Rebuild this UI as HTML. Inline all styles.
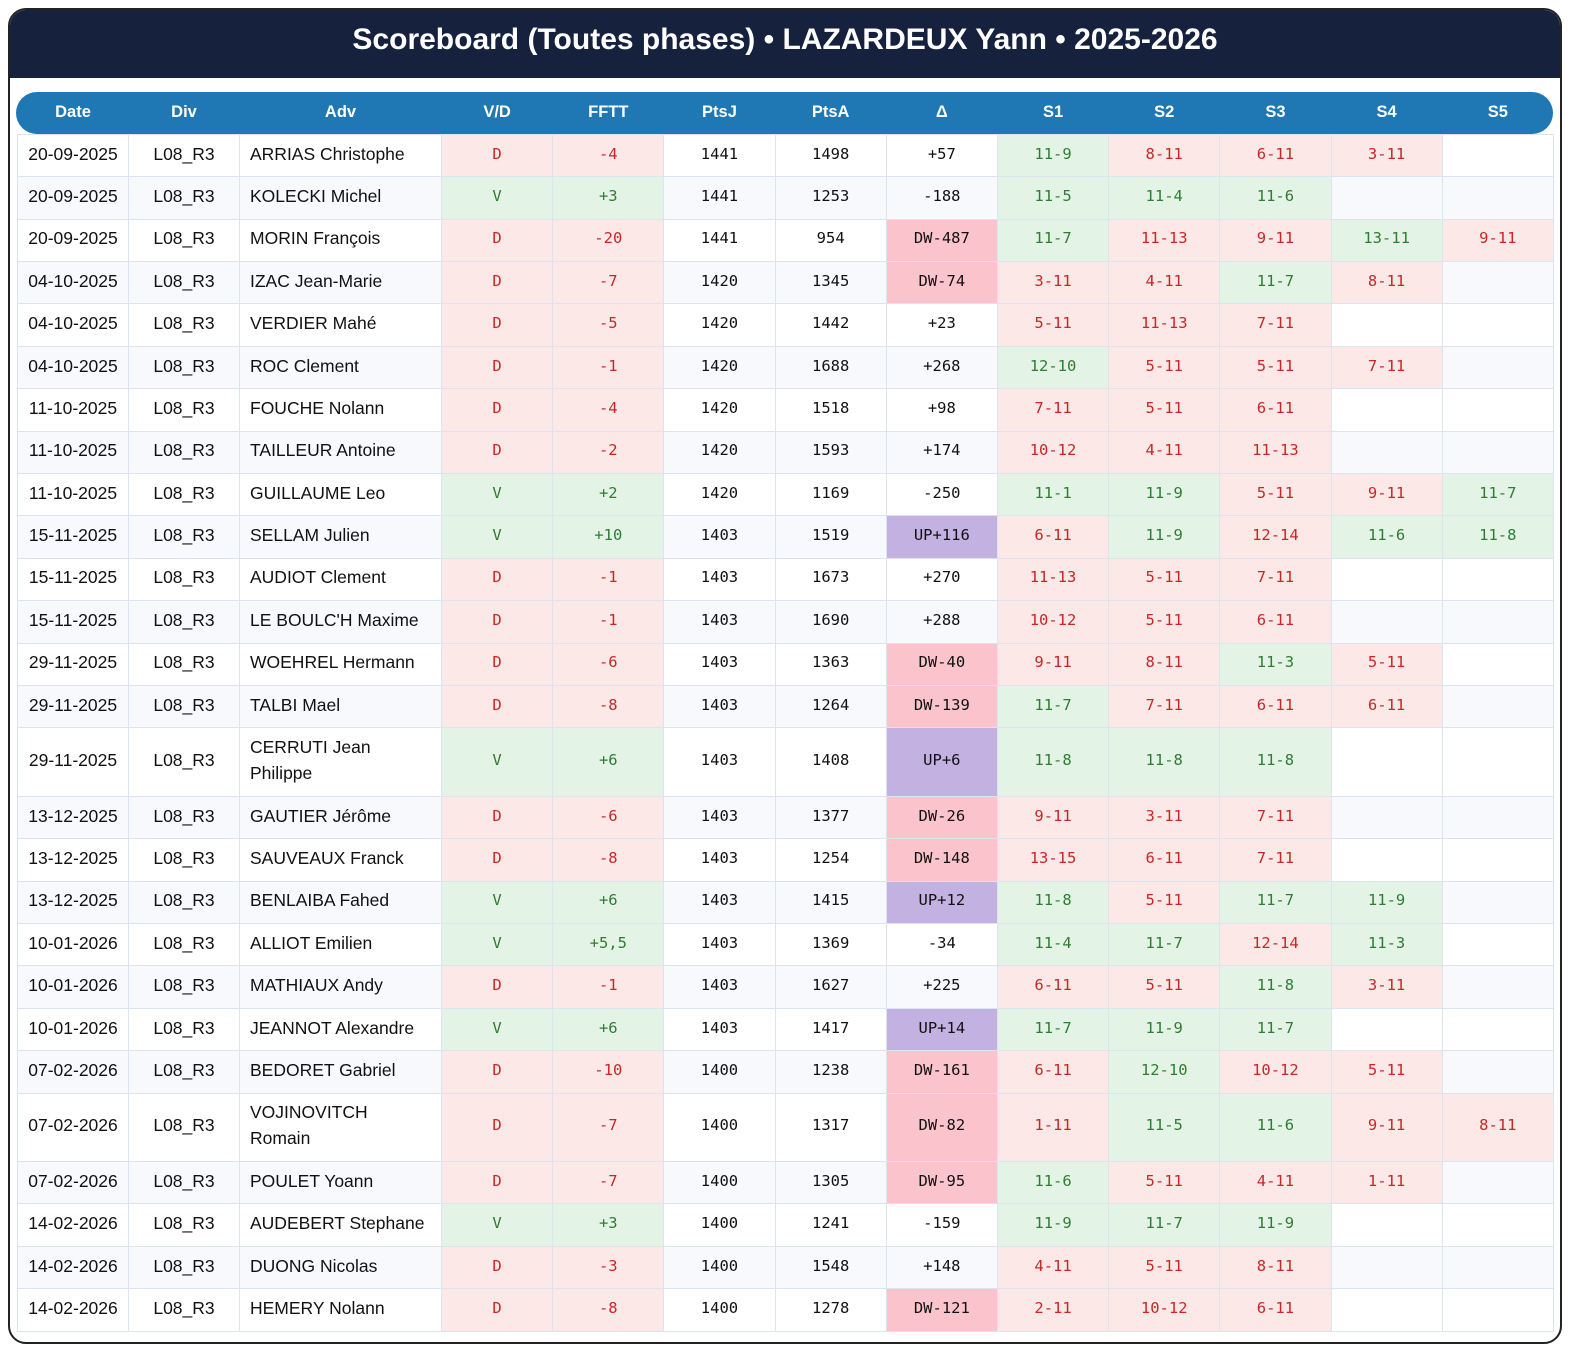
<!DOCTYPE html>
<html><head><meta charset="utf-8"><style>
body{margin:0;width:1593px;height:1357px;background:#fff;position:relative;overflow:hidden;font-family:"Liberation Sans",sans-serif}
.frame{position:absolute;left:8px;top:8px;width:1550px;height:1332px;border:2px solid #222;border-radius:18px;overflow:hidden}
.title{position:absolute;left:0;top:0;width:100%;height:68px;background:#15213d;color:#fff;font-weight:bold;font-size:30px;text-align:center;line-height:60px}
.hdr{position:absolute;left:16px;top:92px;width:1537px;height:42px;background:#1f77b4;border-radius:21px}
table{position:absolute;left:17px;top:92px;border-collapse:collapse;table-layout:fixed;width:1536px;z-index:2}
th{color:#fff;font-size:16.5px;font-weight:bold;height:41px;padding:0;background:transparent}
td{border:1px solid #dde4ef;padding:0 0 4px 0;text-align:center;font-size:17.5px;color:#111;white-space:nowrap;line-height:26px}
td.a{text-align:left;padding-left:10px}
td.m{font-family:"DejaVu Sans Mono","Liberation Mono",monospace;font-size:15.5px}
tr{height:42.4px}
tr.t{height:68.5px}
tbody tr:nth-child(even) td{background:#f7f9fd}
tbody tr td.d{background:#fde8e8;color:#c62828}
tbody tr td.v{background:#e3f4e6;color:#2e7d32}
tbody tr td.dw{background:#fbc4cc}
tbody tr td.up{background:#c3b1e1}
</style></head><body>
<div class="frame"><div class="title">Scoreboard (Toutes phases) • LAZARDEUX Yann • 2025-2026</div></div>
<div class="hdr"></div>
<table>
<colgroup><col style="width:111px"><col style="width:111px"><col style="width:202px"><col span="10" style="width:111.2px"></colgroup>
<thead><tr><th>Date</th><th>Div</th><th>Adv</th><th>V/D</th><th>FFTT</th><th>PtsJ</th><th>PtsA</th><th>Δ</th><th>S1</th><th>S2</th><th>S3</th><th>S4</th><th>S5</th></tr></thead>
<tbody>
<tr><td>20-09-2025</td><td>L08_R3</td><td class="a">ARRIAS Christophe</td><td class="m d">D</td><td class="m d">-4</td><td class="m">1441</td><td class="m">1498</td><td class="m">+57</td><td class="m v">11-9</td><td class="m d">8-11</td><td class="m d">6-11</td><td class="m d">3-11</td><td></td></tr>
<tr><td>20-09-2025</td><td>L08_R3</td><td class="a">KOLECKI Michel</td><td class="m v">V</td><td class="m v">+3</td><td class="m">1441</td><td class="m">1253</td><td class="m">-188</td><td class="m v">11-5</td><td class="m v">11-4</td><td class="m v">11-6</td><td></td><td></td></tr>
<tr><td>20-09-2025</td><td>L08_R3</td><td class="a">MORIN François</td><td class="m d">D</td><td class="m d">-20</td><td class="m">1441</td><td class="m">954</td><td class="m dw">DW-487</td><td class="m v">11-7</td><td class="m d">11-13</td><td class="m d">9-11</td><td class="m v">13-11</td><td class="m d">9-11</td></tr>
<tr><td>04-10-2025</td><td>L08_R3</td><td class="a">IZAC Jean-Marie</td><td class="m d">D</td><td class="m d">-7</td><td class="m">1420</td><td class="m">1345</td><td class="m dw">DW-74</td><td class="m d">3-11</td><td class="m d">4-11</td><td class="m v">11-7</td><td class="m d">8-11</td><td></td></tr>
<tr><td>04-10-2025</td><td>L08_R3</td><td class="a">VERDIER Mahé</td><td class="m d">D</td><td class="m d">-5</td><td class="m">1420</td><td class="m">1442</td><td class="m">+23</td><td class="m d">5-11</td><td class="m d">11-13</td><td class="m d">7-11</td><td></td><td></td></tr>
<tr><td>04-10-2025</td><td>L08_R3</td><td class="a">ROC Clement</td><td class="m d">D</td><td class="m d">-1</td><td class="m">1420</td><td class="m">1688</td><td class="m">+268</td><td class="m v">12-10</td><td class="m d">5-11</td><td class="m d">5-11</td><td class="m d">7-11</td><td></td></tr>
<tr><td>11-10-2025</td><td>L08_R3</td><td class="a">FOUCHE Nolann</td><td class="m d">D</td><td class="m d">-4</td><td class="m">1420</td><td class="m">1518</td><td class="m">+98</td><td class="m d">7-11</td><td class="m d">5-11</td><td class="m d">6-11</td><td></td><td></td></tr>
<tr><td>11-10-2025</td><td>L08_R3</td><td class="a">TAILLEUR Antoine</td><td class="m d">D</td><td class="m d">-2</td><td class="m">1420</td><td class="m">1593</td><td class="m">+174</td><td class="m d">10-12</td><td class="m d">4-11</td><td class="m d">11-13</td><td></td><td></td></tr>
<tr><td>11-10-2025</td><td>L08_R3</td><td class="a">GUILLAUME Leo</td><td class="m v">V</td><td class="m v">+2</td><td class="m">1420</td><td class="m">1169</td><td class="m">-250</td><td class="m v">11-1</td><td class="m v">11-9</td><td class="m d">5-11</td><td class="m d">9-11</td><td class="m v">11-7</td></tr>
<tr><td>15-11-2025</td><td>L08_R3</td><td class="a">SELLAM Julien</td><td class="m v">V</td><td class="m v">+10</td><td class="m">1403</td><td class="m">1519</td><td class="m up">UP+116</td><td class="m d">6-11</td><td class="m v">11-9</td><td class="m d">12-14</td><td class="m v">11-6</td><td class="m v">11-8</td></tr>
<tr><td>15-11-2025</td><td>L08_R3</td><td class="a">AUDIOT Clement</td><td class="m d">D</td><td class="m d">-1</td><td class="m">1403</td><td class="m">1673</td><td class="m">+270</td><td class="m d">11-13</td><td class="m d">5-11</td><td class="m d">7-11</td><td></td><td></td></tr>
<tr><td>15-11-2025</td><td>L08_R3</td><td class="a">LE BOULC'H Maxime</td><td class="m d">D</td><td class="m d">-1</td><td class="m">1403</td><td class="m">1690</td><td class="m">+288</td><td class="m d">10-12</td><td class="m d">5-11</td><td class="m d">6-11</td><td></td><td></td></tr>
<tr><td>29-11-2025</td><td>L08_R3</td><td class="a">WOEHREL Hermann</td><td class="m d">D</td><td class="m d">-6</td><td class="m">1403</td><td class="m">1363</td><td class="m dw">DW-40</td><td class="m d">9-11</td><td class="m d">8-11</td><td class="m v">11-3</td><td class="m d">5-11</td><td></td></tr>
<tr><td>29-11-2025</td><td>L08_R3</td><td class="a">TALBI Mael</td><td class="m d">D</td><td class="m d">-8</td><td class="m">1403</td><td class="m">1264</td><td class="m dw">DW-139</td><td class="m v">11-7</td><td class="m d">7-11</td><td class="m d">6-11</td><td class="m d">6-11</td><td></td></tr>
<tr class="t"><td>29-11-2025</td><td>L08_R3</td><td class="a">CERRUTI Jean<br>Philippe</td><td class="m v">V</td><td class="m v">+6</td><td class="m">1403</td><td class="m">1408</td><td class="m up">UP+6</td><td class="m v">11-8</td><td class="m v">11-8</td><td class="m v">11-8</td><td></td><td></td></tr>
<tr><td>13-12-2025</td><td>L08_R3</td><td class="a">GAUTIER Jérôme</td><td class="m d">D</td><td class="m d">-6</td><td class="m">1403</td><td class="m">1377</td><td class="m dw">DW-26</td><td class="m d">9-11</td><td class="m d">3-11</td><td class="m d">7-11</td><td></td><td></td></tr>
<tr><td>13-12-2025</td><td>L08_R3</td><td class="a">SAUVEAUX Franck</td><td class="m d">D</td><td class="m d">-8</td><td class="m">1403</td><td class="m">1254</td><td class="m dw">DW-148</td><td class="m d">13-15</td><td class="m d">6-11</td><td class="m d">7-11</td><td></td><td></td></tr>
<tr><td>13-12-2025</td><td>L08_R3</td><td class="a">BENLAIBA Fahed</td><td class="m v">V</td><td class="m v">+6</td><td class="m">1403</td><td class="m">1415</td><td class="m up">UP+12</td><td class="m v">11-8</td><td class="m d">5-11</td><td class="m v">11-7</td><td class="m v">11-9</td><td></td></tr>
<tr><td>10-01-2026</td><td>L08_R3</td><td class="a">ALLIOT Emilien</td><td class="m v">V</td><td class="m v">+5,5</td><td class="m">1403</td><td class="m">1369</td><td class="m">-34</td><td class="m v">11-4</td><td class="m v">11-7</td><td class="m d">12-14</td><td class="m v">11-3</td><td></td></tr>
<tr><td>10-01-2026</td><td>L08_R3</td><td class="a">MATHIAUX Andy</td><td class="m d">D</td><td class="m d">-1</td><td class="m">1403</td><td class="m">1627</td><td class="m">+225</td><td class="m d">6-11</td><td class="m d">5-11</td><td class="m v">11-8</td><td class="m d">3-11</td><td></td></tr>
<tr><td>10-01-2026</td><td>L08_R3</td><td class="a">JEANNOT Alexandre</td><td class="m v">V</td><td class="m v">+6</td><td class="m">1403</td><td class="m">1417</td><td class="m up">UP+14</td><td class="m v">11-7</td><td class="m v">11-9</td><td class="m v">11-7</td><td></td><td></td></tr>
<tr><td>07-02-2026</td><td>L08_R3</td><td class="a">BEDORET Gabriel</td><td class="m d">D</td><td class="m d">-10</td><td class="m">1400</td><td class="m">1238</td><td class="m dw">DW-161</td><td class="m d">6-11</td><td class="m v">12-10</td><td class="m d">10-12</td><td class="m d">5-11</td><td></td></tr>
<tr class="t"><td>07-02-2026</td><td>L08_R3</td><td class="a">VOJINOVITCH<br>Romain</td><td class="m d">D</td><td class="m d">-7</td><td class="m">1400</td><td class="m">1317</td><td class="m dw">DW-82</td><td class="m d">1-11</td><td class="m v">11-5</td><td class="m v">11-6</td><td class="m d">9-11</td><td class="m d">8-11</td></tr>
<tr><td>07-02-2026</td><td>L08_R3</td><td class="a">POULET Yoann</td><td class="m d">D</td><td class="m d">-7</td><td class="m">1400</td><td class="m">1305</td><td class="m dw">DW-95</td><td class="m v">11-6</td><td class="m d">5-11</td><td class="m d">4-11</td><td class="m d">1-11</td><td></td></tr>
<tr><td>14-02-2026</td><td>L08_R3</td><td class="a">AUDEBERT Stephane</td><td class="m v">V</td><td class="m v">+3</td><td class="m">1400</td><td class="m">1241</td><td class="m">-159</td><td class="m v">11-9</td><td class="m v">11-7</td><td class="m v">11-9</td><td></td><td></td></tr>
<tr><td>14-02-2026</td><td>L08_R3</td><td class="a">DUONG Nicolas</td><td class="m d">D</td><td class="m d">-3</td><td class="m">1400</td><td class="m">1548</td><td class="m">+148</td><td class="m d">4-11</td><td class="m d">5-11</td><td class="m d">8-11</td><td></td><td></td></tr>
<tr><td>14-02-2026</td><td>L08_R3</td><td class="a">HEMERY Nolann</td><td class="m d">D</td><td class="m d">-8</td><td class="m">1400</td><td class="m">1278</td><td class="m dw">DW-121</td><td class="m d">2-11</td><td class="m d">10-12</td><td class="m d">6-11</td><td></td><td></td></tr>
</tbody></table>
</body></html>
